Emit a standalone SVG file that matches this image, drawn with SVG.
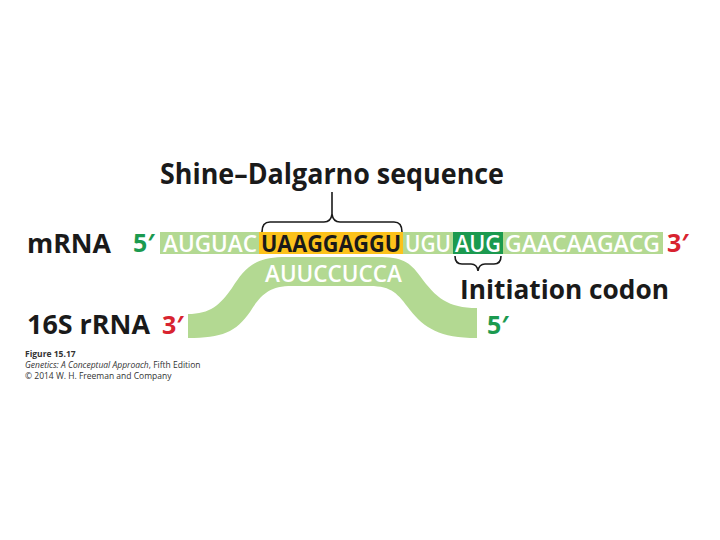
<svg xmlns="http://www.w3.org/2000/svg" width="720" height="540" viewBox="0 0 720 540">
<style>
.lbl{font-family:"Open Sans","Liberation Sans",sans-serif;font-weight:bold;fill:#1a1a1a}
.seq{font-family:"Open Sans","Liberation Sans",sans-serif;font-weight:600;font-size:23px;fill:#ffffff}
.prime{font-family:"Open Sans","Liberation Sans",sans-serif;font-weight:bold;font-size:25px}
.g{fill:#1b9a4f}
.r{fill:#d8232f}
.brace{fill:none;stroke:#1a1a1a;stroke-width:1.6}
.cap{font-family:"Open Sans","Liberation Sans",sans-serif;font-size:8.5px;fill:#333}
</style>
<rect width="720" height="540" fill="#ffffff"/>
<g id="title">
<text class="lbl" x="160" y="184" font-size="28" textLength="344" lengthAdjust="spacingAndGlyphs">Shine–Dalgarno sequence</text>
</g>
<g id="connectors">
<path class="brace" d="M262,232 Q262,222 270,222 L324,222 Q331,222 332,214 L332,192 M332,214 Q333,222 340,222 L394,222 Q402,222 402,232"/>
<path class="brace" d="M455,256 Q455,264 462,264 L471,264 Q477,264 478,271 Q479,264 485,264 L494,264 Q501,264 501,256"/>
</g>
<g id="rRNA">
<path fill="#b3d992" d="M188,314 C210,314 220,305 232,288 C244,270 252,258 282,257 L378,257 C402,257 410,262 420,276 C436,298 448,308 477,308 L477,338 C440,338 424,328 410,310 C398,294 392,286 370,286 L292,286 C268,286 260,296 250,312 C236,332 222,338 188,338 Z"/>
<text class="seq" x="265" y="282" textLength="137" lengthAdjust="spacingAndGlyphs">AUUCCUCCA</text>
</g>
<g id="mRNA">
<rect x="160" y="232" width="503" height="22" fill="#b3d992"/>
<rect x="259" y="232" width="144" height="22" fill="#fcc21b"/>
<rect x="453" y="232" width="50" height="22" fill="#1b9a4f"/>
<text class="seq" x="163" y="252" textLength="94" lengthAdjust="spacingAndGlyphs">AUGUAC</text>
<text class="seq" x="261" y="252" textLength="140" lengthAdjust="spacingAndGlyphs" style="fill:#1a1a1a;font-weight:bold">UAAGGAGGU</text>
<text class="seq" x="405" y="252" textLength="46" lengthAdjust="spacingAndGlyphs">UGU</text>
<text class="seq" x="455" y="252" textLength="46" lengthAdjust="spacingAndGlyphs">AUG</text>
<text class="seq" x="505" y="252" textLength="155" lengthAdjust="spacingAndGlyphs">GAACAAGACG</text>
</g>
<g id="labels">
<text class="lbl" x="27" y="253" font-size="27" textLength="84" lengthAdjust="spacingAndGlyphs">mRNA</text>
<text class="prime g" x="133" y="252">5′</text>
<text class="prime r" x="667" y="252">3′</text>
<text class="lbl" x="27" y="334" font-size="27" textLength="123" lengthAdjust="spacingAndGlyphs">16S rRNA</text>
<text class="prime r" x="162" y="334">3′</text>
<text class="lbl" x="460" y="299" font-size="27" textLength="209" lengthAdjust="spacingAndGlyphs">Initiation codon</text>
<text class="prime g" x="487" y="334">5′</text>
</g>
<g id="caption">
<text class="cap" x="25" y="357" font-weight="bold" fill="#222">Figure 15.17</text>
<text class="cap" x="25" y="368"><tspan font-style="italic">Genetics: A Conceptual Approach</tspan>, Fifth Edition</text>
<text class="cap" x="25" y="379">© 2014 W. H. Freeman and Company</text>
</g>
</svg>
